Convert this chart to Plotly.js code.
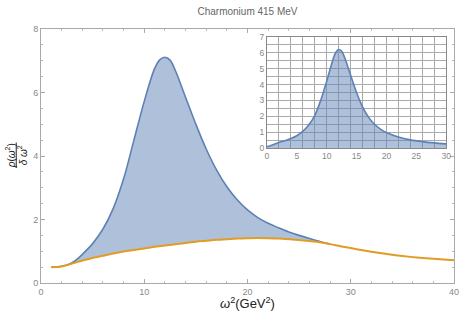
<!DOCTYPE html>
<html>
<head>
<meta charset="utf-8">
<script src="https://cdn.plot.ly/plotly-3.0.1.min.js"></script>
<style>html,body{margin:0;padding:0;background:#fff;}#chart{width:471px;height:316px;}</style>
</head>
<body>
<div id="chart"></div>
<script>
// Shared omega^2 grid (GeV^2)
var omega2 = [1,1.5,2,2.5,3,3.5,4,5,6,7,8,9,10,11,11.5,12,12.5,13,14,15,16,17,18,19,20,21,22,23,24,25,26,27,28,
              29,30,31,32,33,34,35,36,37,38,39,40];
// Orange (lower) curve on the full grid
var orangeRho = [0.50,0.503,0.52,0.56,0.61,0.66,0.71,0.79,0.86,0.93,0.99,1.04,1.09,1.14,1.16,1.18,1.20,1.22,1.26,1.30,1.33,1.36,1.38,1.40,1.41,1.415,1.41,1.40,1.38,1.355,1.32,1.28,1.225,
                 1.16,1.10,1.04,0.985,0.935,0.89,0.85,0.815,0.785,0.76,0.74,0.72];
// Blue (upper) curve, first part of the grid (up to 28)
var blueRho = [0.50,0.505,0.53,0.57,0.64,0.75,0.90,1.24,1.70,2.35,3.28,4.50,5.72,6.75,7.03,7.11,7.02,6.70,5.85,5.00,4.22,3.56,3.03,2.62,2.30,2.06,1.88,1.74,1.61,1.50,1.40,1.31,1.225];
// Inset curve
var insetX = [0,1,2,3,4,5,6,7,8,9,10,11,11.5,12,12.5,13,14,15,16,17,18,19,20,22,24,26,28,30];
var insetY = [0.08,0.22,0.35,0.47,0.60,0.78,1.05,1.45,2.05,3.0,4.2,5.5,6.0,6.2,6.1,5.7,4.6,3.5,2.6,1.95,1.5,1.2,0.98,0.70,0.52,0.41,0.33,0.27];
// Tick values
var xTicks = [0,10,20,30,40];
var yTicks = [0,2,4,6,8];
var insetXTicks = [0,5,10,15,20,25,30];
var insetYTicks = [0,1,2,3,4,5,6,7];

var BLUE = '#5E81B5', FILL = 'rgba(94,129,181,0.5)', ORANGE = '#E19C24';
var n = blueRho.length;

var traces = [
  {x: omega2.slice(0,n), y: orangeRho.slice(0,n), mode:'lines', line:{width:0, shape:'spline', color:ORANGE}, hoverinfo:'skip', showlegend:false},
  {x: omega2.slice(0,n), y: blueRho, mode:'lines', fill:'tonexty', fillcolor:FILL, line:{color:BLUE, width:1.6, shape:'spline'}, showlegend:false},
  {x: omega2, y: orangeRho, mode:'lines', line:{color:ORANGE, width:2, shape:'spline'}, showlegend:false},
  {x: insetX, y: insetY, xaxis:'x2', yaxis:'y2', mode:'lines', fill:'tozeroy', fillcolor:FILL, line:{color:BLUE, width:1.6, shape:'spline'}, showlegend:false}
];

var axisFont = {family:'Liberation Sans, Arial, sans-serif', size:9, color:'#888'};
var layout = {
  width:471, height:316,
  margin:{l:41, r:17, t:29, b:33},
  paper_bgcolor:'#fff', plot_bgcolor:'#fff',
  font:{family:'Liberation Sans, Arial, sans-serif'},
  title:{text:'Charmonium 415 MeV', font:{size:10, color:'#666'}, x:0.5, xref:'paper', xanchor:'center', y:0.965, yanchor:'middle'},
  xaxis:{range:[0,40], tickvals:xTicks, ticks:'inside', ticklen:4, tickcolor:'#aaa', showline:true, linecolor:'#aaa', linewidth:1, mirror:'allticks',
         showgrid:false, zeroline:false, tickfont:axisFont,
         minor:{dtick:2, ticks:'inside', ticklen:2, tickcolor:'#bbb', showgrid:false}},
  yaxis:{range:[0,8], tickvals:yTicks, ticks:'inside', ticklen:4, tickcolor:'#aaa', showline:true, linecolor:'#aaa', linewidth:1, mirror:'allticks',
         showgrid:false, zeroline:false, tickfont:axisFont,
         minor:{dtick:0.5, ticks:'inside', ticklen:2, tickcolor:'#bbb', showgrid:false}},
  xaxis2:{domain:[0.547,0.981], anchor:'y2', range:[0,30], tickvals:insetXTicks, ticks:'', showline:true, linecolor:'#888', mirror:true,
          showgrid:false, zeroline:false, tickfont:{family:'Liberation Sans, Arial, sans-serif', size:8.5, color:'#888'},
          minor:{dtick:2, showgrid:true, gridcolor:'#aaa', gridwidth:1}},
  yaxis2:{domain:[0.531,0.969], anchor:'x2', range:[0,7], tickvals:insetYTicks, ticks:'', showline:true, linecolor:'#888', mirror:true,
          showgrid:true, gridcolor:'#aaa', zeroline:false, tickfont:{family:'Liberation Sans, Arial, sans-serif', size:8.5, color:'#888'},
          minor:{dtick:0.5, showgrid:true, gridcolor:'#aaa', gridwidth:1}},
  annotations:[
    {xref:'paper', yref:'paper', x:0.5, y:-0.079, text:'<i>ω</i><sup>2</sup>(GeV<sup>2</sup>)', showarrow:false, xanchor:'center', yanchor:'middle',
     font:{size:13, color:'#222'}},
    {xref:'paper', yref:'paper', x:-0.073, y:0.502, text:'<i>ρ</i>(<i>ω</i><sup>2</sup>)', textangle:-90, showarrow:false, xanchor:'center', yanchor:'middle',
     font:{size:10, color:'#222'}},
    {xref:'paper', yref:'paper', x:-0.044, y:0.502, text:'<i>δ ω</i><sup>2</sup>', textangle:-90, showarrow:false, xanchor:'center', yanchor:'middle',
     font:{size:10, color:'#222'}}
  ],
  shapes:[
    {type:'line', xref:'paper', yref:'paper', x0:-0.06, x1:-0.06, y0:0.453, y1:0.553, line:{color:'#222', width:1}}
  ]
};

Plotly.newPlot('chart', traces, layout, {displayModeBar:false, staticPlot:true});
</script>
</body>
</html>
